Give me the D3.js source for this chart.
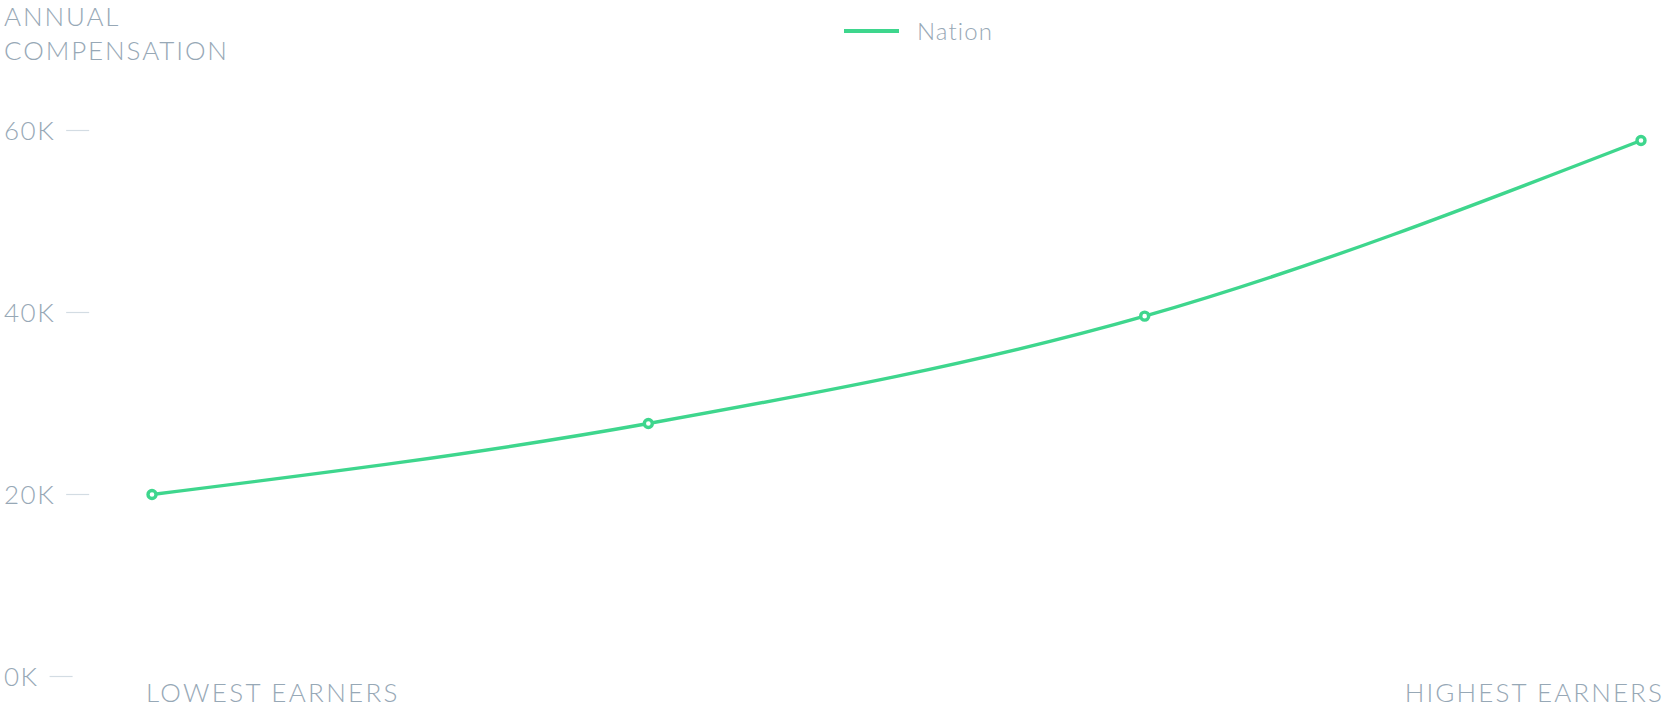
<!DOCTYPE html>
<html>
<head>
<meta charset="utf-8">
<script src="https://cdn.jsdelivr.net/npm/d3@7"></script>
<style>
  html, body { margin: 0; padding: 0; background: #ffffff; }
  svg { display: block; }
  .lbl { font-family: "Lato", "Open Sans", sans-serif; font-weight: 300; fill: #97a8b6; }
</style>
</head>
<body>
<svg id="chart" width="1665" height="708"></svg>
<script>
// Annual compensation by earner bracket
const categories = ["Lowest earners", "Lower-middle earners", "Upper-middle earners", "Highest earners"];
const nationValues = [20000, 27800, 39600, 58900];
const yTicks = [0, 20000, 40000, 60000];
const seriesName = "Nation";
const lineColor = "#3ed68d";

const svg = d3.select("#chart");

const x = d3.scalePoint().domain(categories).range([152, 1641]);
const y = d3.scaleLinear().domain([0, 60000]).range([676.5, 130.5]);

// Y axis: left-aligned labels with a short dash after each
const yAxis = svg.append("g");
yTicks.forEach(t => {
  const g = yAxis.append("g").attr("transform", `translate(0,${y(t)})`);
  const txt = g.append("text")
    .attr("class", "lbl")
    .attr("x", 4)
    .attr("y", 9.5)
    .attr("font-size", 26)
    .attr("letter-spacing", 1.5)
    .text(d3.format("d")(t / 1000) + "K");
  const w = txt.node().getComputedTextLength();
  g.append("line")
    .attr("x1", 4 + w + 11).attr("x2", 4 + w + 34)
    .attr("y1", 0).attr("y2", 0)
    .attr("stroke", "#d3dce3").attr("stroke-width", 1.2);
});

// Axis title
const title = svg.append("text").attr("class", "lbl")
  .attr("font-size", 26).attr("letter-spacing", 1.9);
title.append("tspan").attr("x", 4).attr("y", 26).text("ANNUAL");
title.append("tspan").attr("x", 4).attr("y", 60).text("COMPENSATION");

// X end labels
svg.append("text").attr("class", "lbl")
  .attr("x", 146).attr("y", 702)
  .attr("font-size", 26).attr("letter-spacing", 2.3)
  .text(categories[0].toUpperCase());
svg.append("text").attr("class", "lbl")
  .attr("x", 1664).attr("y", 702)
  .attr("text-anchor", "end")
  .attr("font-size", 26).attr("letter-spacing", 2.1)
  .text(categories[categories.length - 1].toUpperCase());

// Legend
const legend = svg.append("g");
legend.append("line")
  .attr("x1", 844).attr("x2", 899).attr("y1", 31).attr("y2", 31)
  .attr("stroke", lineColor).attr("stroke-width", 4);
legend.append("text").attr("class", "lbl")
  .attr("x", 917).attr("y", 40)
  .attr("font-size", 24).attr("letter-spacing", 1.1)
  .text(seriesName);

// Line
const data = categories.map((c, i) => ({ c, v: nationValues[i] }));
const line = d3.line()
  .x(d => x(d.c))
  .y(d => y(d.v))
  .curve(d3.curveMonotoneX);

svg.append("path")
  .datum(data)
  .attr("d", line)
  .attr("fill", "none")
  .attr("stroke", lineColor)
  .attr("stroke-width", 3.4);

svg.append("g").selectAll("circle")
  .data(data)
  .join("circle")
  .attr("cx", d => x(d.c))
  .attr("cy", d => y(d.v))
  .attr("r", 4)
  .attr("fill", "#ffffff")
  .attr("stroke", lineColor)
  .attr("stroke-width", 3.4);
</script>
</body>
</html>
